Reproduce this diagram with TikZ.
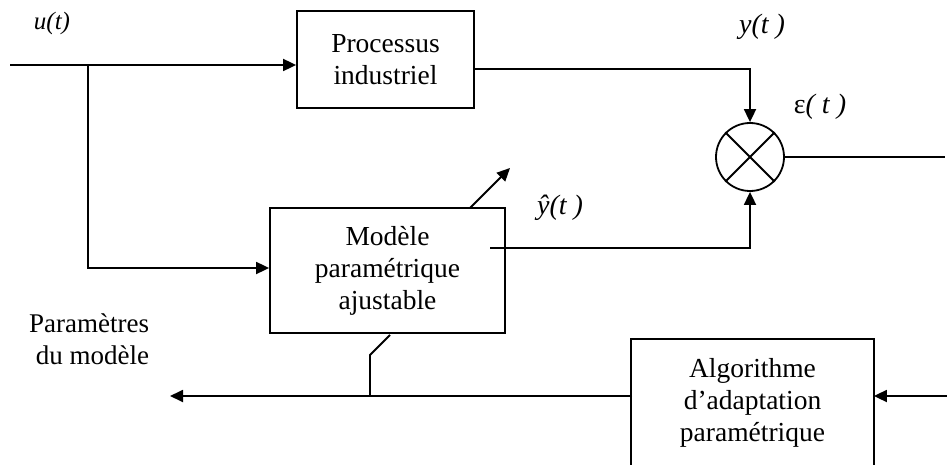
\documentclass[tikz,border=0pt]{standalone}
\usepackage{fontspec}
\setmainfont{Liberation Serif}
\usetikzlibrary{arrows.meta}
\begin{document}
\begin{tikzpicture}[x=1pt,y=-1pt,
  line width=1.8pt,
  arr/.style={-{Triangle[length=13pt,width=12pt]}},
  blockbox/.style={draw,rectangle,align=center,inner sep=0pt,
     font=\fontsize{27.5}{32}\selectfont},
  lbl/.style={font=\fontsize{28}{30}\selectfont\itshape,inner sep=0pt}
]
\useasboundingbox (0,0) rectangle (947,465);
% blocks
\node[blockbox,minimum width=177pt,minimum height=97pt] (proc) at (385.5,59.5) {Processus\\ industriel};
\node[blockbox,minimum width=235pt,minimum height=125pt] (mod) at (387.5,270.5) {Modèle\\paramétrique\\ajustable};
\node[blockbox,draw=none,minimum width=241pt,minimum height=125pt] (alg) at (752.5,402.5) {Algorithme\\d’adaptation\\paramétrique};
\draw (alg.south west) |- (alg.north east) -- (alg.south east);
\node[draw,circle,minimum size=68pt,inner sep=0pt] (sum) at (750,157) {};
\draw (sum.north east) -- (sum.south west) (sum.north west) -- (sum.south east);
% coordinates
\coordinate (uin) at (10,65);
\coordinate (br) at (88,65);
\coordinate (pout) at (474,69);
\coordinate (mout) at (490,248);
\coordinate (eout) at (945,157);
\coordinate (fbin) at (947,396);
\coordinate (algout) at (632,396);
\coordinate (parout) at (170,396);
\coordinate (tap) at (370,396);
\coordinate (tapk) at (370,355);
\coordinate (taps) at (390,335);
\coordinate (adjs) at (470,208);
\coordinate (adje) at (510,168);
% connectors
\draw[arr] (uin) -- (uin -| proc.west);
\draw[arr] (br) |- (mod.west |- 0,268);
\draw[arr] (pout) -| (sum.north);
\draw[arr] (mout) -| (sum.south);
\draw (sum.east) -- (eout);
\draw[arr] (fbin) -- (fbin -| alg.east);
\draw[arr] (algout) -- (parout);
\draw (taps) -- (tapk) -- (tap);
\draw[arr] (adjs) -- (adje);
% labels
\node[lbl,font=\fontsize{25}{28}\selectfont\itshape] (lu) at (52,23) {u(t)};
\node[lbl] (ly) at (762,27) {y(t )};
\node[lbl] (le) at (820,107) {\upshape ε\itshape( t )};
\node[lbl] (lyh) at (560,208) {ŷ(t )};
\node[align=right,anchor=east,inner sep=0pt,font=\fontsize{27}{32}\selectfont] (lpar) at (150,339) {Paramètres\\du modèle};
\end{tikzpicture}
\end{document}
